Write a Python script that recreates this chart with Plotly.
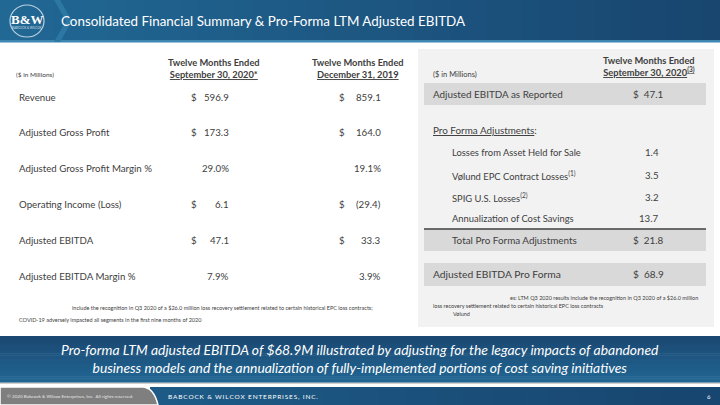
import plotly.graph_objects as go

# ---------------- data ----------------
left_rows = ["Revenue", "Adjusted Gross Profit", "Adjusted Gross Profit Margin %",
             "Operating Income (Loss)", "Adjusted EBITDA", "Adjusted EBITDA Margin %"]
row_kind = ["$", "$", "%", "$", "$", "%"]
ltm_sep_2020 = [596.9, 173.3, 29.0, 6.1, 47.1, 7.9]
fy_dec_2019 = [859.1, 164.0, 19.1, -29.4, 33.3, 3.9]
left_headers = ["Twelve Months Ended<br><u>September 30, 2020*</u>",
                "Twelve Months Ended<br><u>December 31, 2019</u>"]

ebitda_reported = 47.1
adj_items = ["Losses from Asset Held for Sale", "Vølund EPC Contract Losses<sup>(1)</sup>",
             "SPIG U.S. Losses<sup>(2)</sup>", "Annualization of Cost Savings"]
adj_values = [1.4, 3.5, 3.2, 13.7]
total_adjustments = 21.8
ebitda_pro_forma = 68.9

title = "Consolidated Financial Summary & Pro-Forma LTM Adjusted EBITDA"
banner = ("Pro-forma LTM adjusted EBITDA of $68.9M illustrated by adjusting for the legacy impacts of abandoned<br>"
          "business models and the annualization of fully-implemented portions of cost saving initiatives")

FONT = "Lato"
TXT = "#404040"

fig = go.Figure()
shapes = []
ann = []


def rect(x0, y0, x1, y1, color, line=None):
    shapes.append(dict(type="rect", xref="x", yref="y", x0=x0, y0=y0, x1=x1, y1=y1,
                       fillcolor=color, line=dict(width=0) if line is None else line, layer="below"))


def hexmix(c1, c2, t):
    a = [int(c1[i:i + 2], 16) for i in (1, 3, 5)]
    b = [int(c2[i:i + 2], 16) for i in (1, 3, 5)]
    return "#" + "".join(f"{round(a[k] + (b[k] - a[k]) * t):02x}" for k in range(3))


def hgrad(x0, y0, x1, y1, c1, c2, n=40):
    w = (x1 - x0) / n
    for i in range(n):
        rect(x0 + i * w, y0, x0 + (i + 1) * w + 0.6, y1, hexmix(c1, c2, i / (n - 1)))


def vgrad(x0, y0, x1, y1, c1, c2, n=20):
    h = (y1 - y0) / n
    for i in range(n):
        rect(x0, y0 + i * h, x1, y0 + (i + 1) * h + 0.6, hexmix(c1, c2, i / (n - 1)))


def text(x, y, s, size=9.5, color=TXT, anchor="left", family=FONT, valign="middle"):
    ann.append(dict(x=x, y=y, xref="x", yref="y", text=s, showarrow=False, xanchor=anchor,
                    yanchor=valign, font=dict(family=family, size=size, color=color),
                    align=anchor if anchor != "middle" else "center"))


# ---------------- header ----------------
hgrad(0, 0, 720, 41, "#216895", "#18466f")
rect(0, 40, 720, 42.5, "#3f86b3")
shapes.append(dict(type="path", path="M 54 0 L 66 21 L 54 42 L 60 42 L 72 21 L 60 0 Z",
                   fillcolor="#2d77a5", line=dict(width=0), xref="x", yref="y"))
shapes.append(dict(type="circle", xref="x", yref="y", x0=10, y0=5, x1=44, y1=37,
                   line=dict(color="rgba(255,255,255,0.7)", width=1.2)))
text(27, 19, "<b>B&W</b>", size=13, color="white", anchor="center", family="Liberation Sans Narrow")
text(27, 27.5, "BABCOCK & WILCOX", size=3, color="rgba(255,255,255,0.8)", anchor="center")
text(59, 21, title, size=13.4, color="white", family=FONT)

# ---------------- left table ----------------
text(14, 74, "($ in Millions)", size=6.5)
hdr_x = [214, 358]
for hx, h in zip(hdr_x, left_headers):
    text(hx, 68, "<b>" + h + "</b>", size=9.3, anchor="center")

row_y = [97, 132, 168, 204, 240, 276]
dollar_x = [189, 337]
value_x = [231, 383]


def fmt(v, kind):
    if kind == "%":
        return f"{v:.1f}%"
    return f"({abs(v):.1f})" if v < 0 else f"{v:.1f}"


for i, lab in enumerate(left_rows):
    y = row_y[i]
    text(17, y, lab, size=9.7)
    for j, series in enumerate([ltm_sep_2020, fy_dec_2019]):
        v = series[i]
        if row_kind[i] == "$":
            text(dollar_x[j], y, "$", size=9.7)
        text(value_x[j], y, fmt(v, row_kind[i]), size=9.7, anchor="right")

text(70, 308, "include the recognition in Q3 2020 of a $26.0 million loss recovery settlement related to certain historical EPC loss contracts;",
     size=5.5)
text(17, 320, "COVID-19 adversely impacted all segments in the first nine months of 2020", size=5.5)

# ---------------- right panel ----------------
rect(418, 49, 714, 327, "#f2f2f2")
rect(424, 83, 706, 105, "#d9d9d9")
rect(424, 229, 706, 251, "#d9d9d9")
rect(424, 263, 706, 286, "#d9d9d9")
shapes.append(dict(type="line", xref="x", yref="y", x0=424, x1=706, y0=229, y1=229,
                   line=dict(color="#404040", width=1.3)))

text(431, 74, "($ in Millions)", size=7.5)
text(649, 66, "<b>Twelve Months Ended<br><u>September 30, 2020<sup>(3)</sup></u></b>", size=9.3, anchor="center")

text(431, 94, "Adjusted EBITDA as Reported", size=9.9)
text(666, 94, f"$  {ebitda_reported:.1f}", size=9.9, anchor="right")
text(431, 130, "<u>Pro Forma Adjustments</u>:", size=9.9)

adj_y = [152, 175, 197, 218]
for lab, v, y in zip(adj_items, adj_values, adj_y):
    text(450, y, lab, size=9.4)
    text(661, y, f"{v:.1f}", size=9.7, anchor="right")

text(450, 240, "Total Pro Forma Adjustments", size=9.9)
text(666, 240, f"$  {total_adjustments:.1f}", size=9.9, anchor="right")
text(431, 274, "Adjusted EBITDA Pro Forma", size=10.3)
text(666, 274, f"$  {ebitda_pro_forma:.1f}", size=10, anchor="right")

text(508, 298, "es: LTM Q3 2020 results include the recognition in Q3 2020 of a $26.0 million", size=5.5)
text(431, 306, "loss recovery settlement related to certain historical EPC loss contracts", size=5.5)
text(451, 314, "Vølund", size=5.5)

# ---------------- banner ----------------
rect(0, 382, 720, 384, "#d0d0d0")
vgrad(0, 336, 720, 382, "#1a4872", "#216693", n=24)
text(360, 358, "<i>" + banner + "</i>", size=13.9, color="white", anchor="center")

# ---------------- footer ----------------
hgrad(150, 387, 720, 405, "#1d5a86", "#174670", n=20)
shapes.append(dict(type="path", path="M 0 387 L 143 387 Q 154 388 158 405 L 0 405 Z",
                   fillcolor="#7f7f7f", line=dict(color="white", width=1.5), xref="x", yref="y"))
text(5, 396, "© 2020 Babcock & Wilcox Enterprises, Inc.  All rights reserved.", size=4.6, color="#e6e6e6")
footer = "\u2009".join("BABCOCK & WILCOX ENTERPRISES, INC.")
text(166, 396, footer, size=6.5, color="white")
text(713, 396, "6", size=6, color="white", anchor="right")

fig.update_layout(
    width=720, height=405, margin=dict(l=0, r=0, t=0, b=0),
    paper_bgcolor="white", plot_bgcolor="white",
    xaxis=dict(range=[0, 720], visible=False, fixedrange=True),
    yaxis=dict(range=[405, 0], visible=False, fixedrange=True),
    shapes=shapes, annotations=ann, showlegend=False,
)
fig.write_html("out.html", config={"displayModeBar": False},
               post_script="document.body.style.margin='0';document.body.style.overflow='hidden';")
